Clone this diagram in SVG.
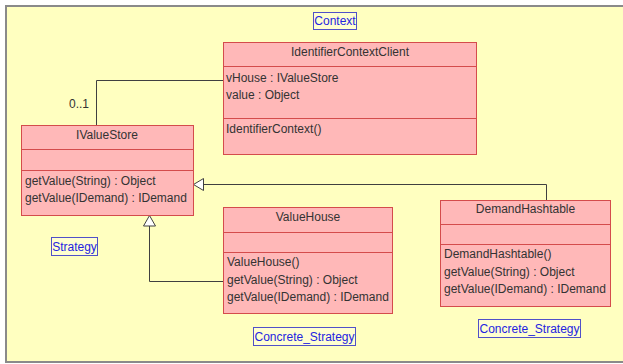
<svg xmlns="http://www.w3.org/2000/svg" width="623" height="364" viewBox="0 0 623 364">
<style>
  .cls{fill:#ffb8b8;stroke:#d44c4c;stroke-width:1}
  .sep{stroke:#d44c4c;stroke-width:1}
  .t{font-family:"Liberation Sans",Arial,sans-serif;font-size:12px;fill:#333}
  .c{text-anchor:middle}
  .lblbox{fill:#ffffd0;stroke:#5050c8;stroke-width:1}
  .lbl{font-family:"Liberation Sans",Arial,sans-serif;font-size:12px;fill:#2424e0;text-anchor:middle}
  .edge{fill:none;stroke:#404040;stroke-width:1}
  .tri{fill:#fff;stroke:#404040;stroke-width:1}
</style>
<rect x="0" y="0" width="623" height="364" fill="#ffffff"/>
<rect x="6" y="6" width="640" height="356" fill="#ffffc0" stroke="#8a8a8a" stroke-width="2"/>

<g id="context-label">
  <rect class="lblbox" x="313.5" y="12.5" width="43" height="17"/>
  <text class="lbl" x="335" y="25">Context</text>
</g>

<g id="connectors">
  <polyline class="edge" points="223,80.5 96.5,80.5 96.5,125"/>
  <text class="t" x="69" y="108">0..1</text>
  <polyline class="edge" points="546.5,200 546.5,184.5 203,184.5"/>
  <polygon class="tri" points="193.5,184.5 203.5,178.5 203.5,190.5"/>
  <polyline class="edge" points="223,281.5 149.5,281.5 149.5,226"/>
  <polygon class="tri" points="149.5,215.5 143.5,226 155.5,226"/>
</g>

<g id="IdentifierContextClient">
  <rect class="cls" x="223.5" y="42.5" width="253" height="112"/>
  <line class="sep" x1="223.5" y1="66.5" x2="476.5" y2="66.5"/>
  <line class="sep" x1="223.5" y1="118.5" x2="476.5" y2="118.5"/>
  <text class="t c" x="350" y="56">IdentifierContextClient</text>
  <text class="t" x="226" y="82">vHouse : IValueStore</text>
  <text class="t" x="226" y="99">value : Object</text>
  <text class="t" x="226" y="133">IdentifierContext()</text>
</g>

<g id="IValueStore">
  <rect class="cls" x="21.5" y="125.5" width="172" height="90"/>
  <line class="sep" x1="21.5" y1="149.5" x2="193.5" y2="149.5"/>
  <line class="sep" x1="21.5" y1="170.5" x2="193.5" y2="170.5"/>
  <text class="t c" x="107" y="139">IValueStore</text>
  <text class="t" x="25" y="185">getValue(String) : Object</text>
  <text class="t" x="25" y="202">getValue(IDemand) : IDemand</text>
</g>

<g id="strategy-label">
  <rect class="lblbox" x="51.5" y="237.5" width="46" height="18"/>
  <text class="lbl" x="74.5" y="251">Strategy</text>
</g>

<g id="ValueHouse">
  <rect class="cls" x="223.5" y="207.5" width="169" height="106"/>
  <line class="sep" x1="223.5" y1="232.5" x2="392.5" y2="232.5"/>
  <line class="sep" x1="223.5" y1="252.5" x2="392.5" y2="252.5"/>
  <text class="t c" x="308" y="221">ValueHouse</text>
  <text class="t" x="227" y="266">ValueHouse()</text>
  <text class="t" x="227" y="284">getValue(String) : Object</text>
  <text class="t" x="227" y="301">getValue(IDemand) : IDemand</text>
</g>

<g id="concrete-label-1">
  <rect class="lblbox" x="253.5" y="327.5" width="102" height="18"/>
  <text class="lbl" x="304.5" y="341">Concrete_Strategy</text>
</g>

<g id="DemandHashtable">
  <rect class="cls" x="440.5" y="200.5" width="170" height="106"/>
  <line class="sep" x1="440.5" y1="224.5" x2="610.5" y2="224.5"/>
  <line class="sep" x1="440.5" y1="244.5" x2="610.5" y2="244.5"/>
  <text class="t c" x="525.5" y="213">DemandHashtable</text>
  <text class="t" x="444" y="258">DemandHashtable()</text>
  <text class="t" x="444" y="276">getValue(String) : Object</text>
  <text class="t" x="444" y="293">getValue(IDemand) : IDemand</text>
</g>

<g id="concrete-label-2">
  <rect class="lblbox" x="478.5" y="319.5" width="102" height="18"/>
  <text class="lbl" x="529.5" y="333">Concrete_Strategy</text>
</g>
</svg>
